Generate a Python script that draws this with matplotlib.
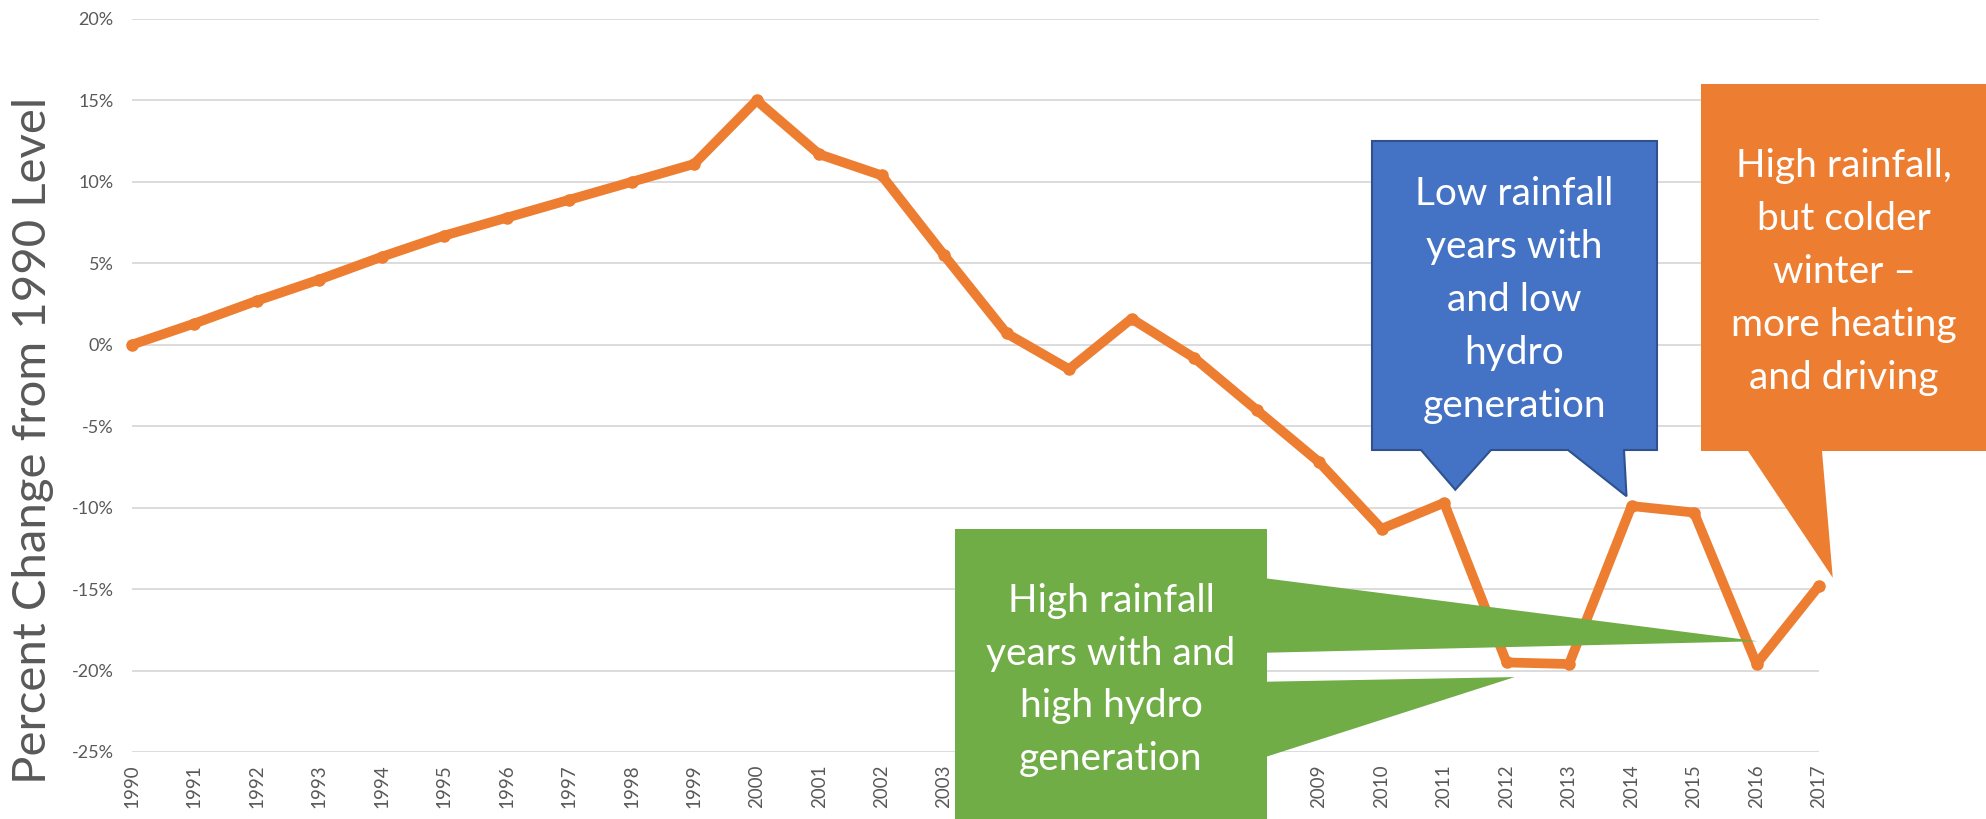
import matplotlib
matplotlib.use("Agg")
import matplotlib.pyplot as plt
from matplotlib.patches import Polygon

# ---------------- data ----------------
years = list(range(1990, 2018))
pct_change = [0.0, 1.3, 2.7, 4.0, 5.4, 6.7, 7.8, 8.9, 10.0, 11.1,
              15.0, 11.7, 10.4, 5.5, 0.7, -1.5, 1.6, -0.8, -4.0, -7.2,
              -11.3, -9.7, -19.5, -19.6, -9.9, -10.3, -19.6, -14.8]
y_ticks = [-25, -20, -15, -10, -5, 0, 5, 10, 15, 20]
y_label = "Percent Change from 1990 Level"

green_text = "High rainfall\nyears with and\nhigh hydro\ngeneration"
blue_text = "Low rainfall\nyears with\nand low\nhydro\ngeneration"
orange_text = "High rainfall,\nbut colder\nwinter \u2013\nmore heating\nand driving"

# ---------------- figure ----------------
W, H = 1986, 819
fig = plt.figure(figsize=(W / 100, H / 100), dpi=100)
plt.rcParams['font.family'] = ['Lato', 'DejaVu Sans']

def fx(x):
    return x / W

def fy(y):
    return 1 - y / H

# green callout box extent (figure pixels, origin top-left)
G_LEFT, G_RIGHT, G_TOP = 955, 1267, 529

ax = fig.add_axes([fx(131.7), fy(752), (1819 - 131.7) / W, (752 - 19) / H])
ax.plot(years, pct_change, color='#ED7D31', lw=7, marker='o', ms=8,
        solid_joinstyle='round', solid_capstyle='round', zorder=3, clip_on=False)
ax.set_xlim(1990, 2017)
ax.set_ylim(-25, 20)
ax.set_yticks(y_ticks)
ax.set_yticklabels([f"{v}%" for v in y_ticks])
ax.set_xticks(years)

# labels fully hidden behind the green callout are left out
def tick_px(yr):
    return ax.transData.transform((yr, 0))[0]

xlabels = [("" if G_LEFT + 8 < tick_px(y) < G_RIGHT - 8 else str(y)) for y in years]
ax.set_xticklabels(xlabels, rotation=90)
ax.yaxis.grid(True, color='#D9D9D9', lw=1.3)
ax.set_axisbelow(True)
for s in ax.spines.values():
    s.set_visible(False)
ax.tick_params(axis='y', length=0, pad=13, labelsize=13, labelcolor='#595959')
ax.tick_params(axis='x', length=0, pad=9, labelsize=13.5, labelcolor='#595959')

fig.text(fx(33), fy(440), y_label, rotation=90, ha='center', va='center',
         fontsize=34, color='#595959', fontweight='normal')

# ---------------- callouts ----------------
def data_px(x, y):
    """data coords -> figure pixel coords with origin at top-left"""
    dx, dy = ax.transData.transform((x, y))
    return dx, H - dy

def poly(points, fc, ec=None, lw=0, z=5):
    pts = [(fx(x), fy(y)) for x, y in points]
    p = Polygon(pts, closed=True, facecolor=fc, edgecolor=ec if ec else fc,
                lw=lw, transform=fig.transFigure, zorder=z, clip_on=False)
    fig.patches.append(p)

LS = 1.58
FS = 28

# green (two tails)
g_tip1 = data_px(2016.02, -18.2)
g_tip2 = data_px(2012.13, -20.4)
poly([(G_LEFT, G_TOP), (G_RIGHT, G_TOP), (G_RIGHT, 578.5), g_tip1, (G_RIGHT, 652.7),
      (G_RIGHT, 681.7), g_tip2, (G_RIGHT, 756.5), (G_RIGHT, 830), (G_LEFT, 830)],
     '#70AD47')
fig.text(fx(1111), fy(680), green_text, ha='center', va='center', color='white',
         fontsize=FS, linespacing=LS, zorder=6)

# blue (two tails)
b_tip1 = data_px(2011.18, -8.9)
b_tip2 = data_px(2013.92, -9.3)
poly([(1372, 141), (1657, 141), (1657, 450), (1624, 450), b_tip2, (1568, 450),
      (1491, 450), b_tip1, (1421, 450), (1372, 450)], '#4472C4', '#2F528F', 1.5)
fig.text(fx(1514.5), fy(300), blue_text, ha='center', va='center', color='white',
         fontsize=FS, linespacing=LS, zorder=6)

# orange (one tail)
o_tip = data_px(2017.22, -14.3)
poly([(1701, 84), (1995, 84), (1995, 451), (1822, 451), o_tip, (1748, 451),
      (1701, 451)], '#ED7D31')
fig.text(fx(1844), fy(272), orange_text, ha='center', va='center', color='white',
         fontsize=FS, linespacing=LS, zorder=6)

fig.savefig("out.png", dpi=100)
